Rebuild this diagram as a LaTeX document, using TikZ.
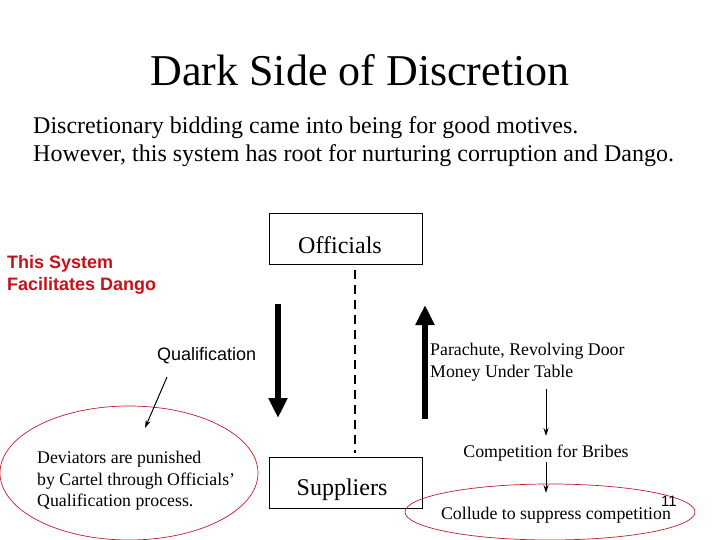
\documentclass[tikz,border=0pt]{standalone}
\usepackage{fontspec}
\setmainfont{Liberation Serif}
\setsansfont{Liberation Sans}
\usetikzlibrary{arrows.meta,shapes.geometric}
\definecolor{dred}{RGB}{200,16,26}
\definecolor{ered}{RGB}{190,30,40}
\begin{document}
\begin{tikzpicture}[x=1pt,y=-1pt,
  box/.style={draw,line width=0.8pt,minimum width=153pt,minimum height=51pt,inner sep=0pt},
  bigarrow/.style={line width=6pt,-{Triangle[width=18pt,length=20pt]}},
  thinarrow/.style={line width=1pt,-{Stealth[width=5pt,length=8pt]}},
  oval/.style={ellipse,draw=ered,line width=0.7pt,inner sep=0pt},
  serif16/.style={font=\fontsize{17.8}{21.7}\selectfont,align=left,inner sep=0pt},
]
\useasboundingbox (0,0) rectangle (720,540);
\node[font=\fontsize{44}{48}\selectfont] (title) at (360,70) {Dark Side of Discretion};
\node[anchor=west,font=\fontsize{24}{28}\selectfont,align=left,inner sep=0pt] (intro) at (33,142)
 {Discretionary bidding came into being for good motives.\\However, this system has root for nurturing corruption and Dango.};
\node[box] (off) at (345.5,238.5) {};
\node[font=\fontsize{24}{28}\selectfont] (offt) at (340,245) {Officials};
\node[box] (sup) at (345.5,482.5) {};
\node[font=\fontsize{24}{28}\selectfont] (supt) at (342,490) {Suppliers};
\coordinate (d1) at (355,270);
\coordinate (d2) at (355,453);
\draw[line width=1.3pt,dash pattern=on 9pt off 6pt] (d1) -- (d2);
\coordinate (a1) at (278,304);
\coordinate (a2) at (278,418);
\draw[bigarrow] (a1) -- (a2);
\coordinate (b1) at (425,419);
\coordinate (b2) at (425,305);
\draw[bigarrow] (b1) -- (b2);
\node[anchor=west,text=dred,font=\sffamily\bfseries\fontsize{18}{22}\selectfont,align=left,inner sep=0pt] (sys) at (7,275) {This System\\Facilitates Dango};
\node[anchor=west,font=\sffamily\fontsize{18}{20}\selectfont,inner sep=0pt] (qual) at (157,356) {Qualification};
\node[oval,minimum width=258pt,minimum height=134pt] (lov) at (129,473) {};
\node[anchor=west,serif16] (dev) at (37,481) {Deviators are punished\\by Cartel through Officials’\\Qualification process.};
\coordinate (q1) at (167,377);
\coordinate (q2) at (145,428);
\draw[thinarrow] (q1) -- (q2);
\node[anchor=west,serif16] (para) at (430,362) {Parachute, Revolving Door\\Money Under Table};
\node[serif16] (comp) at (546,453) {Competition for Bribes};
\node[oval,minimum width=290pt,minimum height=56pt] (rov) at (550,512) {};
\node[serif16] (coll) at (556,515) {Collude to suppress competition};
\node[font=\sffamily\fontsize{15}{17}\selectfont,inner sep=0pt] (num) at (669,501) {11};
\coordinate (p1) at (546,389);
\coordinate (p2) at (546,436);
\draw[thinarrow] (p1) -- (p2);
\coordinate (c1) at (546,462);
\coordinate (c2) at (546,493);
\draw[thinarrow] (c1) -- (c2);
\end{tikzpicture}
\end{document}
